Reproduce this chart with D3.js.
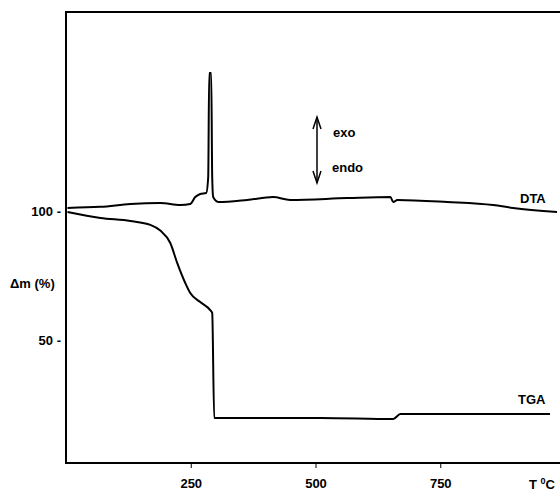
<!DOCTYPE html>
<html>
<head>
<meta charset="utf-8">
<script src="https://cdn.jsdelivr.net/npm/d3@7"></script>
<style>
  body { margin: 0; background: #fff; }
  text { font-family: "Liberation Sans", Arial, sans-serif; font-weight: bold; fill: #000; }
  .curve { fill: none; stroke: #000; stroke-width: 2; stroke-linejoin: round; }
</style>
</head>
<body>
<svg width="560" height="492"></svg>
<script>
// temperature (°C) / mass (%)
var tgaT = [3, 69, 129, 169, 189, 209, 223, 239, 249, 269, 289, 293, 297, 510, 656, 670, 970];
var tgaM = [99.6, 97.3, 96.1, 94.6, 92.4, 87.6, 79.8, 72.1, 68.2, 64.7, 61.6, 60.5, 19.8, 19.8, 19.4, 21.3, 21.3];

// DTA trace, plotted in the same vertical units
var dtaT = [3, 69, 129, 189, 229, 249, 259, 269, 281, 285, 287, 291, 293, 295, 305, 363, 415, 449, 564, 650, 656, 664, 764, 856, 896, 984];
var dtaV = [101.2, 101.6, 102.7, 103.1, 102.3, 102.7, 105.4, 106.6, 107.0, 113.2, 153.5, 153.5, 113.2, 105.4, 103.5, 104.3, 105.4, 104.3, 105.0, 105.4, 103.5, 104.3, 103.5, 102.3, 101.2, 99.6];

var xTicks = [250, 500, 750];
var yTicks = [50, 100];

var svg = d3.select("svg");

var x = d3.scaleLinear().domain([0, 1000]).range([66, 565]);
var y = d3.scaleLinear().domain([100, 50]).range([211, 340]);
var frameTop = 12, frameBottom = 463;

// frame: top line
svg.append("line")
    .attr("x1", x(0) - 1).attr("x2", 562)
    .attr("y1", frameTop).attr("y2", frameTop)
    .attr("stroke", "#000").attr("stroke-width", 2);

var xAxis = svg.append("g")
    .attr("transform", "translate(0," + frameBottom + ")")
    .call(d3.axisBottom(x).tickValues(xTicks).tickSize(5).tickPadding(6));
xAxis.select(".domain").attr("d", "M" + (x(0) - 1) + ",0H562").attr("stroke-width", 2);
xAxis.selectAll(".tick line").attr("stroke-width", 1);
xAxis.selectAll("text").style("font-size", "13px").attr("dy", "1.05em");

var yAxis = svg.append("g")
    .attr("transform", "translate(" + x(0) + ",0)")
    .call(d3.axisLeft(y).tickValues(yTicks).tickSize(0).tickPadding(5)
      .tickFormat(function(d) { return d + " -"; }));
yAxis.select(".domain").attr("d", "M0," + frameTop + "V" + frameBottom).attr("stroke-width", 2);
yAxis.selectAll("text").style("font-size", "13px");

svg.append("text")
    .attr("x", 10).attr("y", 288)
    .style("font-size", "13px")
    .text("\u0394m (%)");

var xl = svg.append("text")
    .attr("x", 529).attr("y", 489)
    .style("font-size", "13px");
xl.append("tspan").text("T ");
xl.append("tspan").attr("dy", -5).style("font-size", "9px").text("0");
xl.append("tspan").attr("dy", 5).text("C");

var line = d3.line()
    .x(function(d) { return x(d[0]); })
    .y(function(d) { return y(d[1]); })
    .curve(d3.curveMonotoneX);

svg.append("path")
    .attr("class", "curve")
    .attr("d", line(d3.zip(tgaT, tgaM)));

svg.append("path")
    .attr("class", "curve")
    .attr("d", line(d3.zip(dtaT, dtaV)));

svg.append("text").attr("x", 518).attr("y", 404).style("font-size", "13px").text("TGA");
svg.append("text").attr("x", 520).attr("y", 203).style("font-size", "13px").text("DTA");

// exo / endo double arrow
var ax = 317, a1 = 117, a2 = 183;
svg.append("line")
    .attr("x1", ax).attr("x2", ax).attr("y1", a1).attr("y2", a2)
    .attr("stroke", "#000").attr("stroke-width", 1.5);
svg.append("path")
    .attr("d", "M" + (ax - 4) + "," + (a1 + 12) + "L" + ax + "," + a1 + "L" + (ax + 4) + "," + (a1 + 12))
    .attr("fill", "none").attr("stroke", "#000").attr("stroke-width", 1.5);
svg.append("path")
    .attr("d", "M" + (ax - 4) + "," + (a2 - 12) + "L" + ax + "," + a2 + "L" + (ax + 4) + "," + (a2 - 12))
    .attr("fill", "none").attr("stroke", "#000").attr("stroke-width", 1.5);
svg.append("text").attr("x", 333).attr("y", 137).style("font-size", "13px").text("exo");
svg.append("text").attr("x", 332).attr("y", 172).style("font-size", "13px").text("endo");
</script>
</body>
</html>
